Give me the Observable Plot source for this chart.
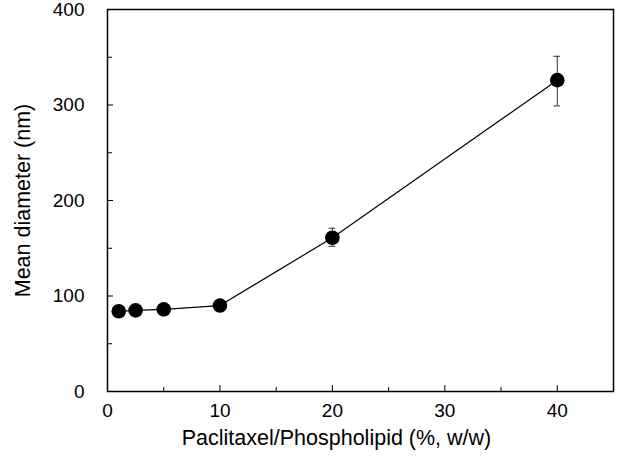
<!DOCTYPE html>
<html><head><meta charset="utf-8">
<script src="https://cdn.jsdelivr.net/npm/d3@7"></script>
<script src="https://cdn.jsdelivr.net/npm/@observablehq/plot@0.6"></script>
<style>
body{margin:0;background:#fff;}
svg{font-family:"Liberation Sans",Arial,sans-serif;}
</style></head>
<body><div id="chart"></div>
<script>
const ratio = [1, 2.5, 5, 10, 20, 40];
const diameter = [84, 85, 86, 90, 161, 326];
const errLow = [84, 85, 86, 90, 152, 299];
const errHigh = [84, 85, 86, 90, 171, 351];
const xMajor = [0, 10, 20, 30, 40];
const xMinor = [5, 15, 25, 35];
const yMajor = [0, 100, 200, 300, 400];
const yMinor = [50, 150, 250, 350];
const xLabel = "Paclitaxel/Phospholipid (%, w/w)";
const yLabel = "Mean diameter (nm)";

const data = ratio.map((x, i) => ({x, y: diameter[i], lo: errLow[i], hi: errHigh[i]}));
const bars = data.filter(d => d.hi > d.lo);

const plot = Plot.plot({
  width: 618, height: 456,
  marginLeft: 107, marginRight: 5, marginTop: 9, marginBottom: 65,
  style: {fontFamily: '"Liberation Sans", Arial, sans-serif', fontSize: "19px", color: "#000", background: "#fff"},
  x: {domain: [0, 45]},
  y: {domain: [0, 400]},
  marks: [
    Plot.frame({stroke: "#000", strokeWidth: 1.5}),
    Plot.axisX({ticks: xMajor, tickSize: -6, tickPadding: 18, fontSize: 19, label: null}),
    Plot.axisX({ticks: xMinor, tickSize: -4, text: null, label: null}),
    Plot.axisY({ticks: yMajor, tickSize: -6, tickPadding: 29, fontSize: 19, label: null}),
    Plot.axisY({ticks: yMinor, tickSize: -5, text: null, label: null}),
    Plot.text([xLabel], {text: d => d, frameAnchor: "bottom", dx: -24, dy: 47, lineAnchor: "middle", textAnchor: "middle", fontSize: 21.5, fill: "#000"}),
    Plot.text([yLabel], {text: d => d, frameAnchor: "left", dx: -84, rotate: -90, lineAnchor: "middle", textAnchor: "middle", fontSize: 21.5, fill: "#000"}),
    Plot.line(data, {x: "x", y: "y", stroke: "#000", strokeWidth: 1.2}),
    Plot.ruleX(bars, {x: "x", y1: "lo", y2: "hi", stroke: "#000", strokeWidth: 0.8}),
    Plot.ruleY(bars, {y: "lo", x1: d => d.x - 0.3, x2: d => d.x + 0.3, stroke: "#000", strokeWidth: 0.8}),
    Plot.ruleY(bars, {y: "hi", x1: d => d.x - 0.3, x2: d => d.x + 0.3, stroke: "#000", strokeWidth: 0.8}),
    Plot.dot(data, {x: "x", y: "y", r: 7.3, fill: "#000", stroke: "none"})
  ]
});
document.getElementById("chart").appendChild(plot);
</script></body></html>
